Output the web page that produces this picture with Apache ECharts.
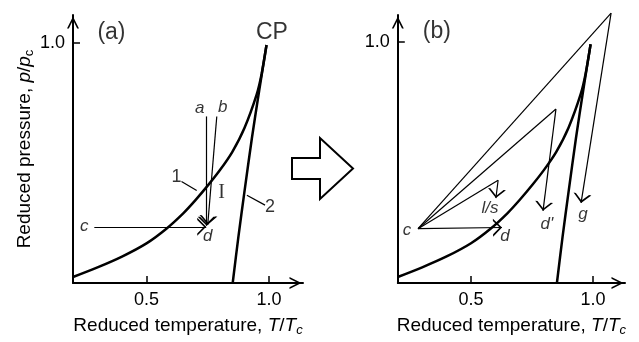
<!DOCTYPE html>
<html>
<head>
<meta charset="utf-8">
<script src="https://cdn.jsdelivr.net/npm/echarts@6.0.0/dist/echarts.min.js"></script>
<style>
  html, body { margin: 0; padding: 0; background: #fff; }
  #main { width: 639px; height: 342px; }
</style>
</head>
<body>
<div id="main"></div>
<script>
// reduced temperature / pressure of line 1 (liquid-vapour) and line 2, same in both panels
var curve1T = [0.2, 0.3, 0.4, 0.5, 0.58, 0.65, 0.7, 0.75, 0.8, 0.85, 0.9, 0.95, 0.97, 0.99];
var curve1P = [0.025, 0.065, 0.11, 0.165, 0.225, 0.29, 0.345, 0.405, 0.47, 0.545, 0.645, 0.785, 0.87, 0.99];
var curve2T = [0.852, 0.875, 0.9, 0.93, 0.96, 0.99];
var curve2P = [0, 0.19, 0.38, 0.6, 0.8, 0.99];

// panel (a): paths a->d, b->d, c->d
var arrowsA = [
  [[0.746, 0.693], [0.746, 0.238]],
  [[0.787, 0.693], [0.750, 0.242]],
  [[0.287, 0.234], [0.744, 0.234]]
];
// leader lines of labels 1 and 2
var leadersA = [
  [[0.643, 0.422], [0.705, 0.385]],
  [[0.910, 0.365], [0.984, 0.324]]
];
// panel (b): from c up to a turning point, then down with an arrow
var pointC = [0.283, 0.225];
var turnsB = [[0.611, 0.426], [0.848, 0.721], [1.074, 1.119]];
var arrowsB = [
  [[0.283, 0.225], [0.627, 0.230]],
  [[0.611, 0.426], [0.602, 0.352]],
  [[0.848, 0.721], [0.795, 0.299]],
  [[1.074, 1.119], [0.951, 0.332]]
];

// text labels [text, T, p, kind]
var labelsA = [
  ['(a)', 0.357, 1.04, 'tag'], ['CP', 1.012, 1.04, 'tag'],
  ['a', 0.717, 0.725, 'it'], ['b', 0.811, 0.730, 'it'],
  ['c', 0.246, 0.234, 'it'], ['d', 0.750, 0.193, 'it'],
  ['1', 0.623, 0.439, 'num'], ['2', 1.004, 0.316, 'num'],
  ['I', 0.807, 0.377, 'roman']
];
var labelsB = [
  ['(b)', 0.360, 1.04, 'tag'],
  ['c', 0.238, 0.217, 'it'], ['d', 0.639, 0.193, 'it'],
  ['l/s', 0.578, 0.311, 'it'], ["d'", 0.811, 0.242, 'it'],
  ['g', 0.959, 0.283, 'it']
];
var xTicks = [0.5, 1.0];
var yTicks = [1.0];

var FONT = 'Liberation Sans, Arial, sans-serif';
var INK = '#000';
// open "V" arrow head; the extra move point puts the tip at the symbol centre
var HEAD = 'path://M5,-10 M5,0 L10,10 L8.7,10 L5,2.6 L1.3,10 L0,10 Z';
var AXIS_HEAD = 'path://M5,0 L10,10 L8.5,10 L5,3 L1.5,10 L0,10 Z';

var labelKinds = {
  tag: { fontSize: 23, fontStyle: 'normal', fontFamily: FONT },
  it: { fontSize: 17, fontStyle: 'italic', fontFamily: FONT },
  num: { fontSize: 18, fontStyle: 'normal', fontFamily: FONT },
  roman: { fontSize: 20, fontStyle: 'normal', fontFamily: 'Liberation Serif, serif' }
};

function pairs(xs, ys) {
  return xs.map(function(x, i) { return [x, ys[i]]; });
}

function titleStyle() {
  return {
    color: INK, fontSize: 19, fontFamily: FONT, lineHeight: 22,
    rich: {
      i: { fontSize: 19, fontStyle: 'italic', fontFamily: FONT, color: INK, lineHeight: 22 },
      sub: { fontSize: 13, fontFamily: FONT, color: INK, lineHeight: 12, verticalAlign: 'bottom' },
      isub: { fontSize: 13, fontStyle: 'italic', fontFamily: FONT, color: INK, lineHeight: 12, verticalAlign: 'bottom' }
    }
  };
}

function xAxisFor(idx, max) {
  return {
    gridIndex: idx, type: 'value', min: 0.2, max: max,
    splitLine: { show: false },
    axisLine: {
      onZero: false,
      lineStyle: { color: INK, width: 2 },
      symbol: ['none', AXIS_HEAD], symbolSize: [12, 15], symbolOffset: [0, -7.5]
    },
    axisTick: { inside: true, length: 7, customValues: xTicks, lineStyle: { color: INK, width: 1.5 } },
    axisLabel: {
      customValues: xTicks, margin: 8, color: INK, fontSize: 18, fontFamily: FONT,
      formatter: function(v) { return v.toFixed(1); }
    },
    name: 'Reduced temperature, {i|T}/{i|T}{isub|c}',
    nameLocation: 'middle', nameGap: 32,
    nameTextStyle: titleStyle()
  };
}

function yAxisFor(idx, max, withName) {
  var ax = {
    gridIndex: idx, type: 'value', min: 0, max: max,
    splitLine: { show: false },
    axisLine: {
      onZero: false,
      lineStyle: { color: INK, width: 2 },
      symbol: ['none', AXIS_HEAD], symbolSize: [12, 15], symbolOffset: [0, -7.5]
    },
    axisTick: { inside: true, length: 7, customValues: yTicks, lineStyle: { color: INK, width: 1.5 } },
    axisLabel: {
      customValues: yTicks, margin: 8, color: INK, fontSize: 18, fontFamily: FONT,
      formatter: function(v) { return v.toFixed(1); }
    }
  };
  if (withName) {
    ax.name = 'Reduced pressure, {i|p}/{i|p}{sub|c}';
    ax.nameLocation = 'middle';
    ax.nameGap = 36;
    ax.nameTextStyle = titleStyle();
  }
  return ax;
}

function curveSeries(idx, xs, ys) {
  return {
    type: 'line', xAxisIndex: idx, yAxisIndex: idx,
    data: pairs(xs, ys), smooth: 0.3,
    showSymbol: false, silent: true,
    lineStyle: { color: INK, width: 2.5 }
  };
}

function segSeries(idx, segs, withHead, width) {
  return {
    type: 'lines', coordinateSystem: 'cartesian2d', xAxisIndex: idx, yAxisIndex: idx,
    clip: false, silent: true,
    symbol: withHead ? ['none', HEAD] : ['none', 'none'],
    symbolSize: [8, 18],
    lineStyle: { color: INK, width: width, opacity: 1 },
    data: segs.map(function(s) { return { coords: s }; })
  };
}

function labelSeries(idx, list) {
  return {
    type: 'scatter', xAxisIndex: idx, yAxisIndex: idx,
    symbolSize: 1, silent: true, clip: false,
    itemStyle: { color: 'rgba(0,0,0,0)' },
    data: list.map(function(l) {
      var k = labelKinds[l[3]];
      return {
        value: [l[1], l[2]],
        label: {
          show: true, position: 'inside', formatter: l[0], color: INK,
          fontSize: k.fontSize, fontStyle: k.fontStyle, fontFamily: k.fontFamily
        }
      };
    })
  };
}

var chart = echarts.init(document.getElementById('main'), null, { renderer: 'canvas' });

var option = {
  backgroundColor: '#fff',
  animation: false,
  grid: [
    { left: 73, top: 15, width: 230, height: 272 },
    { left: 397.8, top: 15, width: 227.2, height: 271 }
  ],
  xAxis: [xAxisFor(0, 1.139), xAxisFor(1, 1.131)],
  yAxis: [yAxisFor(0, 1.115, true), yAxisFor(1, 1.111, false)],
  graphic: [{
    type: 'polygon', silent: true,
    shape: { points: [[292, 158], [320, 158], [320, 138], [353, 168.5], [320, 199], [320, 179], [292, 179]] },
    style: { fill: '#fff', stroke: INK, lineWidth: 2 }
  }],
  series: [
    curveSeries(0, curve1T, curve1P),
    curveSeries(0, curve2T, curve2P),
    segSeries(0, arrowsA, true, 1.2),
    segSeries(0, leadersA, false, 1.2),
    labelSeries(0, labelsA),
    curveSeries(1, curve1T, curve1P),
    curveSeries(1, curve2T, curve2P),
    segSeries(1, turnsB.map(function(t) { return [pointC, t]; }), false, 1.2),
    segSeries(1, arrowsB, true, 1.2),
    labelSeries(1, labelsB)
  ]
};

chart.setOption(option);
</script>
</body>
</html>
